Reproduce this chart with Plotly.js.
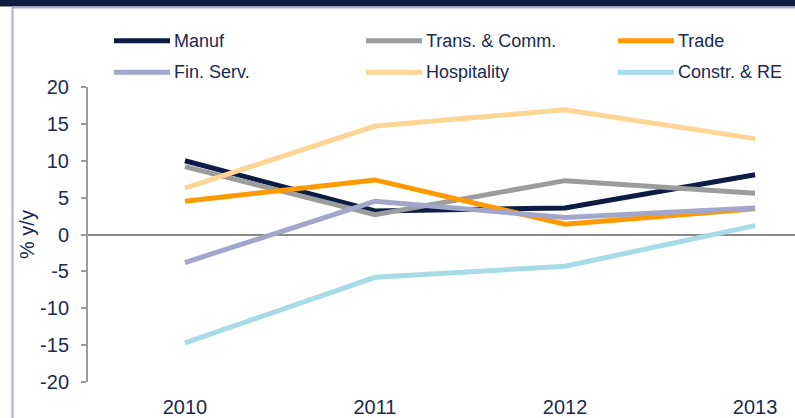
<!DOCTYPE html>
<html>
<head>
<meta charset="utf-8">
<script src="https://cdn.plot.ly/plotly-3.0.1.min.js"></script>
<style>html,body{margin:0;padding:0;background:#fff;}#chart{width:795px;height:418px;}</style>
</head>
<body>
<div id="chart"></div>
<script>
const years = ['2010', '2011', '2012', '2013'];
const seriesNames = ['Manuf', 'Trans. & Comm.', 'Trade', 'Fin. Serv.', 'Hospitality', 'Constr. & RE'];
const manuf = [10.0, 3.2, 3.6, 8.1];
const transComm = [9.2, 2.7, 7.3, 5.6];
const trade = [4.5, 7.4, 1.4, 3.5];
const finServ = [-3.8, 4.5, 2.3, 3.6];
const hospitality = [6.3, 14.7, 16.9, 13.0];
const constrRE = [-14.7, -5.8, -4.3, 1.2];
const yTicks = [20, 15, 10, 5, 0, -5, -10, -15, -20];
const yTickText = ['20', '15', '10', '5', '0', '-5', '-10', '-15', '-20'];
const yTitle = '% y/y';

const seriesValues = [manuf, transComm, trade, finServ, hospitality, constrRE];
const colors = ['#0c1c45', '#9c9c9c', '#ff9900', '#a2a6cb', '#ffd595', '#a6dbe7'];
const textColor = '#1b2a50';

const W = 795, H = 418;
const L = 88, T = 87, B = 36, R = 0;
const pw = W - L - R, ph = H - T - B;
const px2x = p => (p - L) / pw;
const px2y = p => (H - B - p) / ph;

const traces = seriesNames.map((n, i) => ({
  type: 'scatter', mode: 'lines', name: n, x: years, y: seriesValues[i],
  line: {color: colors[i], width: 5}, showlegend: false, hoverinfo: 'skip'
}));

// custom legend (2 rows x 3 columns)
const legCols = [[114, 170], [366, 422], [618, 674]];
const legRows = [40.7, 72.3];
const shapes = [];
const annotations = [];
seriesNames.forEach((n, i) => {
  const r = Math.floor(i / 3), c = i % 3;
  shapes.push({type: 'line', xref: 'paper', yref: 'paper',
    x0: px2x(legCols[c][0]), x1: px2x(legCols[c][1]), y0: px2y(legRows[r]), y1: px2y(legRows[r]),
    line: {color: colors[i], width: 5}});
  annotations.push({xref: 'paper', yref: 'paper', x: px2x(legCols[c][1] + 2), y: px2y(legRows[r]),
    xanchor: 'left', yanchor: 'middle', text: n, showarrow: false,
    font: {family: 'Arial, Liberation Sans, sans-serif', size: 18, color: textColor}});
});
// y-axis title
annotations.push({xref: 'paper', yref: 'paper', x: px2x(27), y: px2y(235), xanchor: 'center', yanchor: 'middle',
  text: yTitle, textangle: -90, showarrow: false,
  font: {family: 'Arial, Liberation Sans, sans-serif', size: 20, color: textColor}});
// frame decorations
shapes.push({type: 'rect', xref: 'paper', yref: 'paper', x0: px2x(0), x1: px2x(W), y0: px2y(0), y1: px2y(6.5),
  fillcolor: '#0e1c3f', line: {width: 0}});
shapes.push({type: 'line', xref: 'paper', yref: 'paper', x0: px2x(12), x1: px2x(W), y0: px2y(7.5), y1: px2y(7.5),
  line: {color: '#a9b0d6', width: 2}});
shapes.push({type: 'line', xref: 'paper', yref: 'paper', x0: px2x(12.5), x1: px2x(12.5), y0: px2y(7), y1: px2y(H),
  line: {color: '#a9b0d6', width: 2}});

const layout = {
  width: W, height: H,
  margin: {l: L, r: R, t: T, b: B, pad: 0},
  paper_bgcolor: '#fff', plot_bgcolor: '#fff',
  font: {family: 'Arial, Liberation Sans, sans-serif', size: 20, color: textColor},
  showlegend: false,
  xaxis: {type: 'category', range: [-0.51, 3.21], showgrid: false, zeroline: false, showline: false,
    ticks: '', tickfont: {size: 20, color: textColor}, ticklabelstandoff: 11},
  yaxis: {range: [-20, 20], tickvals: yTicks, ticktext: yTickText, showgrid: false, zeroline: true, zerolinecolor: '#8a8a8a',
    zerolinewidth: 2, showline: true, linecolor: '#9a9a9a', linewidth: 2, ticks: 'outside', ticklen: 5,
    tickcolor: '#9a9a9a', tickwidth: 2, tickfont: {size: 20, color: textColor}, ticklabelstandoff: 8},
  shapes: shapes, annotations: annotations
};

Plotly.newPlot('chart', traces, layout, {displayModeBar: false, staticPlot: true});
</script>
</body>
</html>
